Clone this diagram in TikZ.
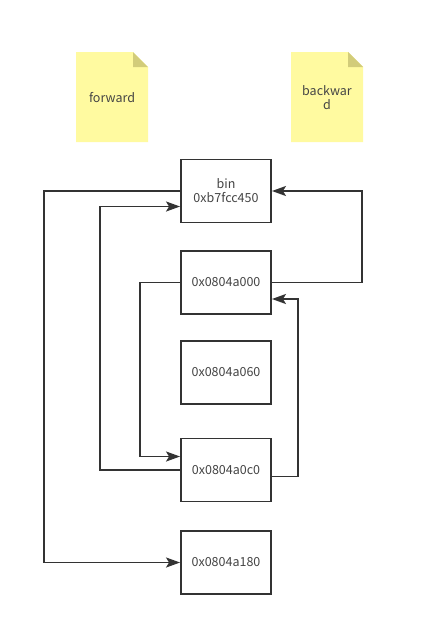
\documentclass[tikz,border=0pt]{standalone}
\usepackage{fontspec}
\newfontfamily\yh{Noto Sans CJK SC}
\usetikzlibrary{arrows.meta}
\definecolor{ln}{HTML}{333333}
\definecolor{notefill}{HTML}{FFFAA0}
\definecolor{notefold}{HTML}{D2CC7A}
\definecolor{txt}{HTML}{444444}
\begin{document}
\begin{tikzpicture}[x=1pt,y=-1pt,
  box/.style={draw=ln,line width=1.9pt,minimum width=90pt,minimum height=63pt,inner sep=0pt,font=\yh\fontsize{12.5}{14}\selectfont,text=txt,align=center},
  conn/.style={draw=ln,line width=1.8pt,-{Stealth[length=14pt,width=10pt,inset=3pt]}},
  notetext/.style={font=\yh\fontsize{12.5}{14}\selectfont,text=txt,align=center}]
\useasboundingbox[fill=white] (0,0) rectangle (442,635);
% notes
\fill[notefill] (76,52) -- (133,52) -- (148,67) -- (148,142) -- (76,142) -- cycle;
\fill[notefold] (133,52) -- (148,67) -- (133,67) -- cycle;
\node[notetext] (fwd) at (112,97.5) {forward};
\fill[notefill] (291,52) -- (348,52) -- (363,67) -- (363,142) -- (291,142) -- cycle;
\fill[notefold] (348,52) -- (363,67) -- (348,67) -- cycle;
\node[notetext] (bwd) at (327,97.5) {backwar\\d};
% boxes
\node[box] (bin) at (226,191) {bin\\0xb7fcc450};
\node[box] (a000) at (226,282.5) {0x0804a000};
\node[box] (a060) at (226,372.5) {0x0804a060};
\node[box] (a0c0) at (226,470) {0x0804a0c0};
\node[box] (a180) at (226,562.5) {0x0804a180};
% connectors
\draw[conn] (bin.west) -- ++(-136,0) |- (a180.west);
\draw[conn] (a0c0.west) -- ++(-80.3,0) |- ([yshift=-15.5pt]bin.west);
\draw[conn] (a000.west) -- ++(-40,0) |- ([yshift=13.5pt]a0c0.west);
\draw[conn] (a000.east) -- ++(89.7,0) |- (bin.east);
\draw[conn] ([yshift=-6.5pt]a0c0.east) -- ++(25.7,0) |- ([yshift=-16.5pt]a000.east);
\end{tikzpicture}
\end{document}
